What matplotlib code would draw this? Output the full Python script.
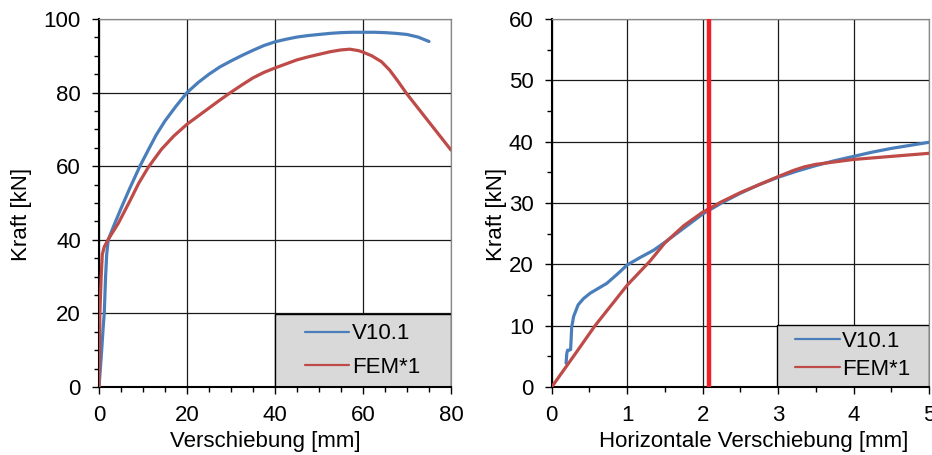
import numpy as np
import matplotlib.pyplot as plt
from matplotlib.ticker import MultipleLocator
from matplotlib.patches import Rectangle

plt.rcParams['font.family'] = ['Liberation Sans', 'DejaVu Sans']

# left chart: Kraft vs Verschiebung
v101_x = [0, 0.5, 1.0, 1.2, 1.5, 1.75, 2.1, 3.6, 5, 7, 9.3, 11.2, 13, 15, 17.5, 20, 22.5, 25,
          27.5, 30, 32.5, 35, 37.5, 40, 42.5, 45, 47.5, 50, 52.5, 55, 57.5, 60, 62.5, 65, 67.5,
          70, 72.5, 75]
v101_y = [0, 8, 17, 20, 30, 36, 40, 44.5, 48.5, 54, 60, 64.4, 68.5, 72.3, 76.3, 80, 82.7, 85,
          87, 88.6, 90.1, 91.5, 92.8, 93.8, 94.5, 95.1, 95.5, 95.8, 96.1, 96.3, 96.4, 96.4, 96.4,
          96.3, 96.1, 95.8, 95.1, 93.9]
fem_x = [0, 0.2, 0.5, 0.75, 1.2, 2.1, 4.4, 7, 9, 11.2, 14.2, 17, 20, 22.5, 25, 27.5, 30, 32.5,
         35, 37.5, 40, 42.5, 45, 47.5, 50, 52.5, 55, 57, 59, 60, 62, 64.2, 66, 67.7, 70, 72.5,
         75, 77.5, 80]
fem_y = [0, 20, 30, 36, 38.1, 40.1, 44.5, 50.5, 55.3, 59.7, 64.6, 68.2, 71.4, 73.6, 75.8, 78,
         80.1, 82.1, 84, 85.5, 86.7, 87.8, 88.9, 89.7, 90.4, 91.1, 91.6, 91.8, 91.4, 91, 90,
         88.4, 86.2, 83.5, 79.6, 75.8, 72, 68.2, 64.4]

# right chart: Kraft vs horizontale Verschiebung
h_v101_x = [0.19, 0.2, 0.21, 0.23, 0.25, 0.265, 0.29, 0.35, 0.42, 0.51, 0.62, 0.73, 0.86, 1.0,
            1.17, 1.35, 1.5, 1.75, 2.0, 2.25, 2.5, 2.75, 3.0, 3.25, 3.5, 3.75, 4.0, 4.25, 4.5,
            4.75, 5.0]
h_v101_y = [3.9, 5.5, 6.0, 6.0, 6.1, 9.8, 11.5, 13.4, 14.4, 15.3, 16.1, 16.9, 18.3, 19.9, 21.1,
            22.3, 23.6, 25.9, 28.2, 30.0, 31.6, 33.0, 34.2, 35.2, 36.1, 36.9, 37.6, 38.3, 38.9,
            39.4, 39.9]
h_fem_x = [0, 0.3, 0.574, 1.0, 1.3, 1.5, 1.75, 2.0, 2.25, 2.5, 2.75, 3.0, 3.2, 3.35, 3.5, 3.75,
           4.0, 4.5, 5.0]
h_fem_y = [0, 5.2, 10, 16.6, 20.5, 23.5, 26.3, 28.5, 30.2, 31.7, 33.0, 34.3, 35.3, 35.9, 36.3,
           36.7, 37.1, 37.6, 38.1]
marker_x = 2.09

blue = '#4a7ebb'
red = '#be4b48'
fs = 16

fig = plt.figure(figsize=(9.32, 4.55), dpi=100)
ax1 = fig.add_axes([0.1062, 0.1495, 0.3777, 0.8087])
ax2 = fig.add_axes([0.592, 0.1495, 0.4048, 0.8087])


def style(ax):
    ax.grid(True, which='major', color='#1a1a1a', lw=0.9)
    ax.set_axisbelow(True)
    for s in ['left', 'bottom']:
        ax.spines[s].set_color('black')
        ax.spines[s].set_linewidth(1.5)
    for s in ['top', 'right']:
        ax.spines[s].set_color('#888888')
        ax.spines[s].set_linewidth(0.9)
    ax.tick_params(which='major', length=5, width=1, pad=8, labelsize=fs)
    ax.tick_params(which='minor', length=3.5, width=1)


def add_legend(ax, box_x, box_h, anchor, spacing):
    ax.add_patch(Rectangle((box_x, 0), 1 - box_x, box_h, transform=ax.transAxes,
                           facecolor='#d9d9d9', edgecolor='black', lw=1.0, zorder=2.5))
    leg = ax.legend(loc='center left', bbox_to_anchor=anchor, borderaxespad=0, borderpad=0,
                    frameon=False, fontsize=fs, handlelength=2.0, handletextpad=0.12,
                    labelspacing=spacing)
    for ln in leg.get_lines():
        ln.set_linewidth(1.6)


ax1.plot(v101_x, v101_y, color=blue, lw=2.3, label='V10.1', solid_capstyle='round', zorder=3)
ax1.plot(fem_x, fem_y, color=red, lw=2.3, label='FEM*1', solid_capstyle='round', zorder=3)
ax1.set_xlim(0, 80)
ax1.set_ylim(0, 100)
ax1.xaxis.set_major_locator(MultipleLocator(20))
ax1.xaxis.set_minor_locator(MultipleLocator(5))
ax1.yaxis.set_major_locator(MultipleLocator(20))
ax1.yaxis.set_minor_locator(MultipleLocator(5))
style(ax1)
ax1.set_xlabel('Verschiebung [mm]', fontsize=fs)
ax1.set_ylabel('Kraft [kN]', fontsize=fs)
ax1.xaxis.set_label_coords(0.472, -0.12)
ax1.yaxis.set_label_coords(-0.19, 0.47)
add_legend(ax1, 0.5, 0.198, (0.585, 0.099), 0.55)

ax2.plot(h_v101_x, h_v101_y, color=blue, lw=2.3, label='V10.1', solid_capstyle='round', zorder=3)
ax2.plot(h_fem_x, h_fem_y, color=red, lw=2.3, label='FEM*1', solid_capstyle='round', zorder=3)
ax2.axvline(marker_x, color='#f02028', lw=3.2, zorder=4)
ax2.set_xlim(0, 5)
ax2.set_ylim(0, 60)
ax2.xaxis.set_major_locator(MultipleLocator(1))
ax2.xaxis.set_minor_locator(MultipleLocator(0.5))
ax2.yaxis.set_major_locator(MultipleLocator(10))
ax2.yaxis.set_minor_locator(MultipleLocator(5))
style(ax2)
ax2.set_xlabel('Horizontale Verschiebung [mm]', fontsize=fs)
ax2.set_ylabel('Kraft [kN]', fontsize=fs)
ax2.xaxis.set_label_coords(0.534, -0.12)
ax2.yaxis.set_label_coords(-0.118, 0.47)
add_legend(ax2, 0.597, 0.168, (0.645, 0.086), 0.3)

fig.savefig('out.png', dpi=100)
